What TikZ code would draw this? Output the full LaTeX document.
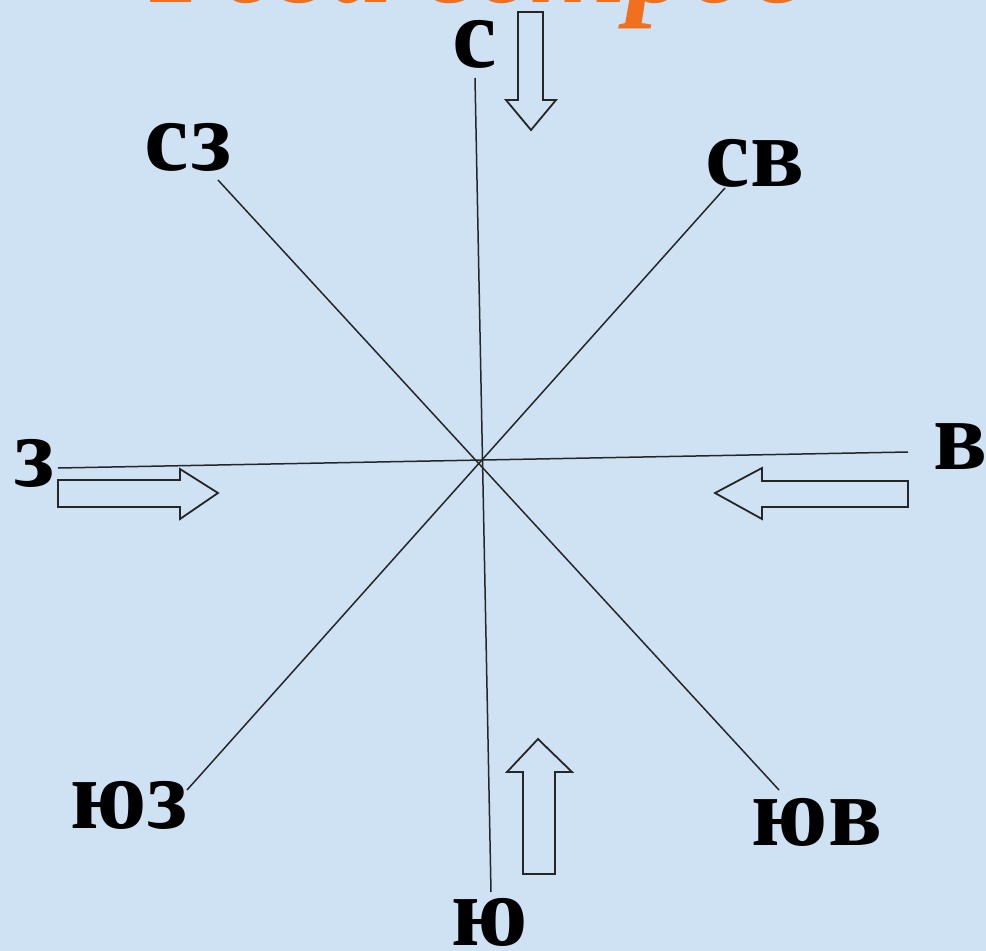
\documentclass[tikz,border=0pt]{standalone}
\usepackage{fontspec}
\setmainfont{Liberation Serif}
\definecolor{bgblue}{RGB}{206,226,244}
\definecolor{titleorange}{RGB}{240,112,30}
\begin{document}
\begin{tikzpicture}[x=1pt,y=-1pt,
  ray/.style={draw=black!85, line width=1.5pt},
  windarrow/.style={draw=black!85, line width=1.8pt, line join=miter},
  lbl/.style={font=\fontsize{100}{100}\selectfont\bfseries, anchor=base, inner sep=0pt, text=black},
  titletext/.style={font=\fontsize{124}{124}\selectfont\bfseries\itshape, anchor=base west, inner sep=0pt, text=titleorange}]
\fill[bgblue] (0,0) rectangle (986,951);
\clip (0,0) rectangle (986,951);
\useasboundingbox (0,0) rectangle (986,951);
% title (cut off at the top)
\node[titletext] (title) at (150,2) {Роза ветров};
% line ends
\coordinate (nE) at (475,78);
\coordinate (sE) at (491,892);
\coordinate (wE) at (58,468);
\coordinate (eE) at (908,452);
\coordinate (nwE) at (218,180);
\coordinate (seE) at (779,790);
\coordinate (neE) at (725,188);
\coordinate (swE) at (187,790);
\draw[ray] (nE) -- (sE);
\draw[ray] (wE) -- (eE);
\draw[ray] (nwE) -- (seE);
\draw[ray] (neE) -- (swE);
% labels
\node[lbl] (lN) at (475,67) {с};
\node[lbl] (lNW) at (188,170) {сз};
\node[lbl] (lNE) at (755,186) {св};
\node[lbl] (lW) at (35,486) {з};
\node[lbl] (lE) at (960,469) {в};
\node[lbl] (lSW) at (129,828) {юз};
\node[lbl] (lSE) at (817,845) {юв};
\node[lbl] (lS) at (490,945) {ю};
% wind arrows
\draw[windarrow] (518,12) -- (543,12) -- (543,100) -- (556,100) -- (531,130) -- (506,100) -- (518,100) -- cycle;
\draw[windarrow] (58,480) -- (180,480) -- (180,469) -- (218,493) -- (180,519) -- (180,507) -- (58,507) -- cycle;
\draw[windarrow] (908,481) -- (762,481) -- (762,468) -- (715,493) -- (762,519) -- (762,507) -- (908,507) -- cycle;
\draw[windarrow] (523,874) -- (523,772) -- (507,772) -- (538,739) -- (572,772) -- (555,772) -- (555,874) -- cycle;
\end{tikzpicture}
\end{document}
